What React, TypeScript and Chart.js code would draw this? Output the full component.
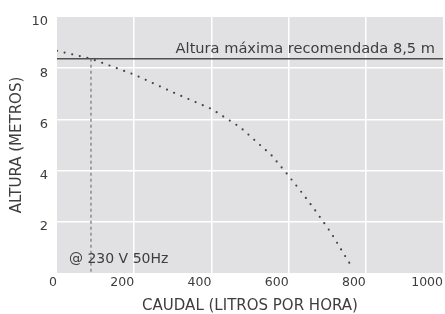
import React, { useEffect, useRef } from "react";
import { Chart, registerables } from "chart.js";

Chart.register(...registerables);

const curveX = [0, 88, 200, 300, 400, 475, 555, 595, 636, 674, 710, 742, 767];
const curveY = [8.68, 8.37, 7.75, 7.06, 6.41, 5.69, 4.61, 3.89, 3.11, 2.34, 1.57, 0.77, 0.16];
const maxLine = 8.37;
const maxLineX = [0, 1000];
const crossX = 88;
const xTicks = [0, 200, 400, 600, 800, 1000];
const yTicks = [0, 2, 4, 6, 8, 10];
const maxLabel = "Altura máxima recomendada 8,5 m";
const voltLabel = "@ 230 V 50Hz";
const xTitle = "CAUDAL (LITROS POR HORA)";
const yTitle = "ALTURA (METROS)";

const FONT = "'DejaVu Sans', 'Open Sans', sans-serif";
const TEXT = "#3d3d3d";

const bgPlugin = {
  id: "plotBg",
  beforeDraw(chart: any) {
    const { ctx, chartArea: a } = chart;
    ctx.save();
    ctx.fillStyle = "#e1e1e3";
    ctx.fillRect(a.left, a.top, a.right - a.left, a.bottom - a.top);
    ctx.restore();
  },
};

const textPlugin = {
  id: "annoText",
  afterDatasetsDraw(chart: any) {
    const { ctx } = chart;
    const xs = chart.scales.x;
    const ys = chart.scales.y;
    ctx.save();
    ctx.fillStyle = TEXT;
    ctx.textBaseline = "alphabetic";
    ctx.textAlign = "right";
    ctx.font = `14.6px ${FONT}`;
    ctx.fillText(maxLabel, xs.getPixelForValue(1000) - 8, ys.getPixelForValue(maxLine) - 5.5);
    ctx.textAlign = "left";
    ctx.font = `14px ${FONT}`;
    ctx.fillText(voltLabel, xs.getPixelForValue(0) + 12, ys.getPixelForValue(0) - 10.5);
    ctx.restore();
  },
};

export default function App() {
  const ref = useRef<HTMLCanvasElement | null>(null);
  useEffect(() => {
    if (!ref.current) return;
    const chart = new Chart(ref.current, {
      type: "line",
      data: {
        datasets: [
          {
            data: maxLineX.map((x) => ({ x, y: maxLine })),
            borderColor: "#505050",
            borderWidth: 1.5,
            pointRadius: 0,
          },
          {
            data: [
              { x: crossX, y: maxLine },
              { x: crossX, y: 0 },
            ],
            borderColor: "#8a8a8a",
            borderWidth: 1.5,
            borderDash: [3, 3],
            pointRadius: 0,
          },
          {
            data: curveX.map((x, i) => ({ x, y: curveY[i] })),
            borderColor: "#454545",
            borderWidth: 2.2,
            borderDash: [0, 7.8],
            borderCapStyle: "round",
            pointRadius: 0,
            tension: 0,
          },
        ],
      },
      options: {
        responsive: false,
        animation: false,
        events: [],
        layout: { padding: { top: 17, right: 1, left: 0, bottom: 0 } },
        plugins: { legend: { display: false }, tooltip: { enabled: false } },
        scales: {
          x: {
            type: "linear",
            min: 0,
            max: 1000,
            afterFit: (s: any) => {
              s.height = 41;
            },
            afterBuildTicks: (s: any) => {
              s.ticks = xTicks.map((v) => ({ value: v }));
            },
            border: { display: false },
            grid: {
              drawTicks: false,
              lineWidth: 1.5,
              color: (c: any) =>
                c.tick && (c.tick.value === 0 || c.tick.value === 1000) ? "rgba(0,0,0,0)" : "#ffffff",
            },
            ticks: {
              align: "end",
              padding: 2,
              color: TEXT,
              font: { family: FONT, size: 12.5 },
              maxRotation: 0,
              autoSkip: false,
              callback: (v: any) => String(v),
            },
            title: {
              display: true,
              text: xTitle,
              color: TEXT,
              font: { family: FONT, size: 15 },
              padding: { top: 0, bottom: -1 },
            },
          },
          y: {
            type: "linear",
            min: 0,
            max: 10,
            afterFit: (s: any) => {
              s.width = 57;
            },
            afterBuildTicks: (s: any) => {
              s.ticks = yTicks.map((v) => ({ value: v }));
            },
            border: { display: false },
            grid: {
              drawTicks: false,
              lineWidth: 1.5,
              color: (c: any) =>
                c.tick && (c.tick.value === 0 || c.tick.value === 10) ? "rgba(0,0,0,0)" : "#ffffff",
            },
            ticks: {
              padding: 9,
              labelOffset: 5,
              color: TEXT,
              font: { family: FONT, size: 13 },
              callback: (v: any) => (v === 0 ? "" : String(v)),
            },
            title: {
              display: true,
              text: yTitle,
              color: TEXT,
              font: { family: FONT, size: 15 },
              padding: { top: 8, bottom: 0 },
            },
          },
        },
      },
      plugins: [bgPlugin, textPlugin],
    } as any);
    return () => chart.destroy();
  }, []);
  return (
    <div style={{ position: "fixed", left: 0, top: 0, width: 445, height: 314, background: "#fff" }}>
      <canvas ref={ref} width={445} height={314} style={{ display: "block" }} />
    </div>
  );
}
